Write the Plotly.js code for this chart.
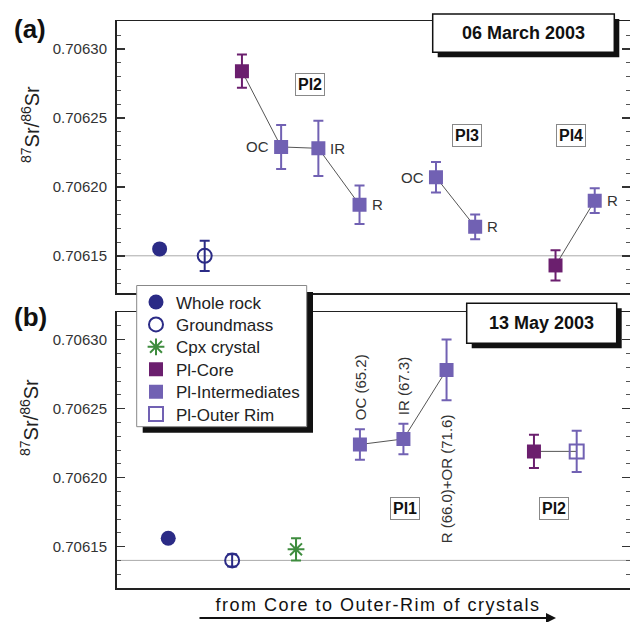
<!DOCTYPE html>
<html>
<head>
<meta charset="utf-8">
<script src="https://cdn.plot.ly/plotly-3.0.1.min.js"></script>
<style>
  html, body { margin: 0; padding: 0; background: #fff; }
  #chart { width: 630px; height: 622px; }
</style>
</head>
<body>
<div id="chart"></div>
<script>
// 87Sr/86Sr from core to outer rim of plagioclase crystals, two eruption dates.

// (a) 06 March 2003
const marchPos     = [1.0, 2.15, 3.1, 4.1, 5.05, 6.1, 8.05, 9.05, 11.1, 12.1];
const marchRatio   = [0.706155, 0.706150, 0.706284, 0.706229, 0.706228, 0.706187, 0.706207, 0.706171, 0.706143, 0.706190];
const marchErr     = [0, 0.000011, 0.000012, 0.000016, 0.000020, 0.000014, 0.000011, 0.000009, 0.000011, 0.000009];
const marchKind    = ['wr', 'gm', 'core', 'int', 'int', 'int', 'int', 'int', 'core', 'int'];
const marchLabel   = ['', '', '', 'OC', 'IR', 'R', 'OC', 'R', '', 'R'];
const marchCrystal = ['', '', 'Pl2', 'Pl2', 'Pl2', 'Pl2', 'Pl3', 'Pl3', 'Pl4', 'Pl4'];
const marchRef     = 0.70615;

// (b) 13 May 2003
const mayPos     = [1.22, 2.85, 4.48, 6.11, 7.22, 8.32, 10.55, 11.64];
const mayRatio   = [0.706156, 0.706140, 0.706148, 0.706224, 0.706228, 0.706278, 0.706219, 0.706219];
const mayErr     = [0, 0.0000045, 0.000008, 0.000011, 0.000011, 0.000022, 0.000012, 0.000015];
const mayKind    = ['wr', 'gm', 'cpx', 'int', 'int', 'int', 'core', 'rim'];
const mayLabel   = ['', '', '', 'OC (65.2)', 'IR (67.3)', 'R (66.0)+OR (71.6)', '', ''];
const mayCrystal = ['', '', '', 'Pl1', 'Pl1', 'Pl1', 'Pl2', 'Pl2'];
const mayRef     = 0.70614;

const W = 630, H = 622;
const px = v => v / W;
const py = v => (H - v) / H;
const FONT = 'Liberation Sans, Arial, sans-serif';

const kinds = {
  wr:   { name: 'Whole rock',       symbol: 'circle',        size: 15, color: '#2b2b86', lw: 0 },
  gm:   { name: 'Groundmass',       symbol: 'circle-open',   size: 14, color: '#2b2b86', lw: 2 },
  cpx:  { name: 'Cpx crystal',      symbol: 'asterisk-open', size: 14, color: '#3e8c3e', lw: 2 },
  core: { name: 'Pl-Core',          symbol: 'square',        size: 14, color: '#6b1f6e', lw: 0 },
  int:  { name: 'Pl-Intermediates', symbol: 'square',        size: 14, color: '#7161b3', lw: 0 },
  rim:  { name: 'Pl-Outer Rim',     symbol: 'square-open',   size: 14, color: '#7161b3', lw: 2 }
};
const kindOrder = ['wr', 'gm', 'cpx', 'core', 'int', 'rim'];

function indicesOf(arr, v) {
  return arr.map((c, i) => (c === v ? i : -1)).filter(i => i >= 0);
}

function panelTraces(pos, ratio, err, kind, crystal, xa, ya, inLegend) {
  const traces = [];
  // thin line joining the analyses of each crystal
  [...new Set(crystal.filter(c => c))].forEach(g => {
    const idx = indicesOf(crystal, g);
    traces.push({
      type: 'scatter', mode: 'lines', xaxis: xa, yaxis: ya,
      x: idx.map(i => pos[i]), y: idx.map(i => ratio[i]),
      line: { color: '#555', width: 1 }, showlegend: false, hoverinfo: 'skip'
    });
  });
  kindOrder.forEach(k => {
    const idx = indicesOf(kind, k);
    if (!idx.length) return;
    const s = kinds[k];
    traces.push({
      type: 'scatter', mode: 'markers', name: s.name, xaxis: xa, yaxis: ya,
      x: idx.map(i => pos[i]), y: idx.map(i => ratio[i]),
      showlegend: inLegend,
      marker: { symbol: s.symbol, size: s.size, color: s.color, line: { color: s.color, width: s.lw } },
      error_y: { type: 'data', array: idx.map(i => err[i]), visible: k !== 'wr',
                 color: s.color, thickness: 2, width: 5 }
    });
  });
  return traces;
}

const data = [
  ...panelTraces(marchPos, marchRatio, marchErr, marchKind, marchCrystal, 'x', 'y', false),
  ...panelTraces(mayPos, mayRatio, mayErr, mayKind, mayCrystal, 'x2', 'y2', true)
];

const labelFont = { family: FONT, size: 15, color: '#333' };
const annotations = [];

// point labels, panel (a)
marchLabel.forEach((t, i) => {
  if (!t) return;
  const left = t === 'OC';
  annotations.push({
    xref: 'x', yref: 'y', x: marchPos[i], y: marchRatio[i], text: t, showarrow: false,
    xanchor: left ? 'right' : 'left', xshift: left ? -10 : 10, yanchor: 'middle', font: labelFont
  });
});

// rotated point labels, panel (b)
mayLabel.forEach((t, i) => {
  if (!t) return;
  const below = t.startsWith('R ');
  annotations.push({
    xref: 'x2', yref: 'y2', x: mayPos[i],
    y: below ? mayRatio[i] - mayErr[i] : mayRatio[i] + mayErr[i],
    text: t, showarrow: false, textangle: -90,
    xanchor: 'center', yanchor: below ? 'top' : 'bottom', yshift: below ? -12 : 7, font: labelFont
  });
});

// crystal tags
const tagFont = { family: 'Liberation Sans Narrow, Liberation Sans, Arial, sans-serif', size: 16, color: '#111', weight: 'bold' };
[['Pl2', 310, 85], ['Pl3', 467, 135.5], ['Pl4', 571, 135.5], ['Pl1', 405, 508], ['Pl2', 553.5, 508]]
  .forEach(([t, x, y]) => annotations.push({
    xref: 'paper', yref: 'paper', x: px(x), y: py(y), text: t, showarrow: false,
    xanchor: 'center', yanchor: 'middle', font: tagFont,
    bgcolor: '#fff', bordercolor: '#888', borderwidth: 1, borderpad: 2
  }));

// date titles
const dateFont = { family: FONT, size: 18, color: '#111', weight: 'bold' };
annotations.push({ xref: 'paper', yref: 'paper', x: px(523.5), y: py(33), text: '06 March 2003',
  showarrow: false, xanchor: 'center', yanchor: 'middle', font: dateFont });
annotations.push({ xref: 'paper', yref: 'paper', x: px(541.7), y: py(323.3), text: '13 May 2003',
  showarrow: false, xanchor: 'center', yanchor: 'middle', font: dateFont });

// panel letters
const letterFont = { family: FONT, size: 26, color: '#111', weight: 'bold' };
annotations.push({ xref: 'paper', yref: 'paper', x: px(30), y: py(29), text: '(a)', showarrow: false,
  xanchor: 'center', yanchor: 'middle', font: letterFont });
annotations.push({ xref: 'paper', yref: 'paper', x: px(30), y: py(317), text: '(b)', showarrow: false,
  xanchor: 'center', yanchor: 'middle', font: letterFont });

// y titles
const yTitle = '<sup>87</sup>Sr/<sup>86</sup>Sr';
const yTitleFont = { family: FONT, size: 20, color: '#222' };
annotations.push({ xref: 'paper', yref: 'paper', x: px(30), y: py(125), text: yTitle, showarrow: false,
  textangle: -90, xanchor: 'center', yanchor: 'middle', font: yTitleFont });
annotations.push({ xref: 'paper', yref: 'paper', x: px(30), y: py(418), text: yTitle, showarrow: false,
  textangle: -90, xanchor: 'center', yanchor: 'middle', font: yTitleFont });

// bottom caption and arrow
annotations.push({ xref: 'paper', yref: 'paper', x: px(378), y: py(605), text: 'from Core to Outer-Rim of crystals',
  showarrow: false, xanchor: 'center', yanchor: 'middle', font: { family: FONT, size: 18, color: '#111' } });
annotations.push({ xref: 'paper', yref: 'paper', x: px(556), y: py(618), text: '',
  showarrow: true, axref: 'pixel', ayref: 'pixel', ax: -358, ay: 0,
  arrowhead: 2, arrowsize: 1, arrowwidth: 2, arrowcolor: '#111', standoff: 0, startstandoff: 0 });

function rect(x0, y0, x1, y1, fill, line, lw) {
  return { type: 'rect', xref: 'paper', yref: 'paper', layer: 'above',
    x0: px(x0), x1: px(x1), y0: py(y1), y1: py(y0),
    fillcolor: fill, line: { color: line, width: lw } };
}

const shapes = [
  { type: 'line', xref: 'x domain', yref: 'y', x0: 0, x1: 1, y0: marchRef, y1: marchRef,
    line: { color: '#aaa', width: 1 }, layer: 'below' },
  { type: 'line', xref: 'x2 domain', yref: 'y2', x0: 0, x1: 1, y0: mayRef, y1: mayRef,
    line: { color: '#aaa', width: 1 }, layer: 'below' },
  // date boxes with drop shadow
  rect(437.7, 19, 619.3, 57.3, '#111', '#111', 0),
  rect(432.7, 14, 614.3, 52.3, '#fff', '#111', 1.5),
  rect(471.7, 308.3, 621.7, 348.3, '#111', '#111', 0),
  rect(466.7, 303.3, 616.7, 343.3, '#fff', '#111', 1.5),
  // legend box with drop shadow
  rect(142.7, 292, 313, 432.7, '#111', '#111', 0),
  rect(136.7, 285.5, 306.7, 426.7, '#fff', '#888', 1)
];

const xBase = {
  domain: [116.5 / W, 1], range: [-0.1, 13.0], showline: true, mirror: true,
  linecolor: '#222', linewidth: 1.5, ticks: '', showticklabels: false,
  showgrid: false, zeroline: false, fixedrange: true
};
const yBase = {
  tick0: 0.70615, dtick: 0.00005, tickformat: '.5f',
  ticks: 'inside', ticklen: 8, tickwidth: 1.5, tickcolor: '#333',
  minor: { dtick: 0.00001, ticks: 'inside', ticklen: 4, tickwidth: 1, tickcolor: '#555' },
  showline: true, mirror: 'ticks', linecolor: '#222', linewidth: 1.5,
  showgrid: false, zeroline: false, ticklabelstandoff: 5,
  tickfont: { family: FONT, size: 15, color: '#333' }, fixedrange: true
};

const layout = {
  width: W, height: H,
  margin: { l: 0, r: 0, t: 0, b: 0 },
  paper_bgcolor: '#fff', plot_bgcolor: '#fff',
  showlegend: true,
  xaxis: Object.assign({}, xBase, { anchor: 'y' }),
  xaxis2: Object.assign({}, xBase, { anchor: 'y2' }),
  yaxis: Object.assign({}, yBase, { anchor: 'x', domain: [py(293), py(21)], range: [0.706123, 0.7063204] }),
  yaxis2: Object.assign({}, yBase, { anchor: 'x2', domain: [py(588), py(312)], range: [0.70612, 0.70632] }),
  legend: {
    x: px(136), y: py(284.5), xanchor: 'left', yanchor: 'top',
    bgcolor: 'rgba(0,0,0,0)', borderwidth: 0,
    font: { family: FONT, size: 17, color: '#222' }, traceorder: 'normal'
  },
  shapes: shapes,
  annotations: annotations
};

const LEGEND_ROW = 22.4;

Plotly.newPlot('chart', data, layout, { displayModeBar: false, staticPlot: true }).then(gd => {
  gd.querySelectorAll('.annotation-text').forEach(t => {
    if (t.textContent.indexOf('from Core') === 0) t.style.letterSpacing = '1.5px';
  });
  // tighter legend rows
  let y0 = null;
  gd.querySelectorAll('.legend .traces').forEach((g, i) => {
    const m = /translate\(\s*([-\d.]+)[ ,]+([-\d.]+)\s*\)/.exec(g.getAttribute('transform') || '');
    if (!m) return;
    if (y0 === null) y0 = parseFloat(m[2]);
    g.setAttribute('transform', 'translate(' + m[1] + ',' + (y0 + i * LEGEND_ROW) + ')');
  });
});
</script>
</body>
</html>
